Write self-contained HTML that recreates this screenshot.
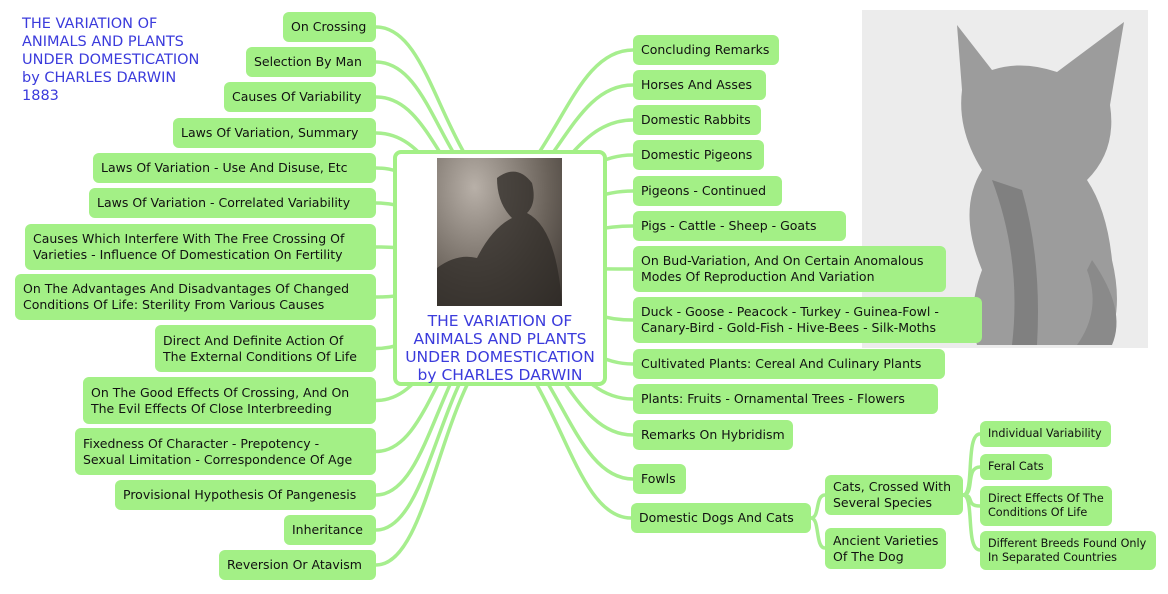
<!DOCTYPE html>
<html><head><meta charset="utf-8">
<style>
body{margin:0;width:1168px;height:594px;background:#fff;position:relative;overflow:hidden;font-family:"DejaVu Sans","Liberation Sans",sans-serif;}
.n{position:absolute;background:#a3f086;border-radius:6px;font-size:12.5px;color:#111;box-sizing:border-box;padding:0 8px;display:flex;align-items:center;line-height:16px;white-space:nowrap}
.s{font-size:11.2px;line-height:14px}
#title{position:absolute;left:22px;top:15px;color:#3b3bdc;font-size:14.5px;line-height:18px;font-family:"DejaVu Sans",sans-serif}
#center{position:absolute;left:393px;top:150px;width:214px;height:236px;box-sizing:border-box;border:4px solid #a3f086;border-radius:8px;background:#fff}
#photo{position:absolute;left:40px;top:4px;width:125px;height:148px;background:radial-gradient(ellipse at 30% 20%,#b8b0a8,#6a625a 60%,#3a3430);overflow:hidden}
#ct{position:absolute;left:0;right:0;top:158px;text-align:center;color:#3b3bdc;font-size:15.5px;line-height:18px}
#cat{position:absolute;left:862px;top:10px;width:286px;height:338px;background:#ececec}
svg{position:absolute;left:0;top:0}
</style></head><body>
<svg id="lines" width="1168" height="594"></svg>
<div id="title">THE VARIATION OF<br>ANIMALS AND PLANTS<br>UNDER DOMESTICATION<br>by CHARLES DARWIN<br>1883</div>
<div id="cat"><svg width="286" height="338" viewBox="0 0 286 338">
<path d="M95 15 L130 60 Q160 50 195 62 L262 12 L248 95 Q255 140 225 170 Q245 200 250 250 Q262 300 245 335 L115 335 Q105 300 120 260 Q95 200 120 160 Q95 120 100 80 Z" fill="#9c9c9c"/>
<path d="M130 170 Q160 250 150 335 L175 335 Q180 250 160 180Z" fill="#808080"/>
<path d="M230 250 Q265 300 250 335 L215 335 Q240 300 225 260Z" fill="#8a8a8a"/>
</svg></div>
<div id="center"><div id="photo"><svg width="125" height="148"><path d="M60 20 Q80 5 95 25 Q100 45 90 55 Q120 70 125 148 L0 148 L0 110 Q20 95 40 100 Q55 70 75 60 Q60 45 60 20Z" fill="#2e2a26" opacity="0.75"/></svg></div><div id="ct">THE VARIATION OF<br>ANIMALS AND PLANTS<br>UNDER DOMESTICATION<br>by CHARLES DARWIN</div></div>
<div id="nodes"></div>
<script>
var L=[["On Crossing",283,12,376,42],["Selection By Man",246,47,376,77],["Causes Of Variability",224,82,376,112],["Laws Of Variation, Summary",173,118,376,148],["Laws Of Variation - Use And Disuse, Etc",93,153,376,183],["Laws Of Variation - Correlated Variability",89,188,376,218],["Causes Which Interfere With The Free Crossing Of<br>Varieties - Influence Of Domestication On Fertility",25,224,376,270],["On The Advantages And Disadvantages Of Changed<br>Conditions Of Life: Sterility From Various Causes",15,274,376,320],["Direct And Definite Action Of<br>The External Conditions Of Life",155,325,376,372],["On The Good Effects Of Crossing, And On<br>The Evil Effects Of Close Interbreeding",83,377,376,424],["Fixedness Of Character - Prepotency -<br>Sexual Limitation - Correspondence Of Age",75,428,376,475],["Provisional Hypothesis Of Pangenesis",115,480,376,510],["Inheritance",284,515,376,545],["Reversion Or Atavism",219,550,376,580]];
var R=[["Concluding Remarks",633,35,779,65],["Horses And Asses",633,70,766,100],["Domestic Rabbits",633,105,761,135],["Domestic Pigeons",633,140,764,170],["Pigeons - Continued",633,176,782,206],["Pigs - Cattle - Sheep - Goats",633,211,846,241],["On Bud-Variation, And On Certain Anomalous<br>Modes Of Reproduction And Variation",633,246,946,292],["Duck - Goose - Peacock - Turkey - Guinea-Fowl -<br>Canary-Bird - Gold-Fish - Hive-Bees - Silk-Moths",633,297,982,343],["Cultivated Plants: Cereal And Culinary Plants",633,349,945,379],["Plants: Fruits - Ornamental Trees - Flowers",633,384,938,414],["Remarks On Hybridism",633,420,793,450],["Fowls",633,464,686,494],["Domestic Dogs And Cats",631,503,811,533]];
var S=[["Cats, Crossed With<br>Several Species",825,475,963,515,""],["Ancient Varieties<br>Of The Dog",825,528,946,569,""],["Individual Variability",980,421,1111,447,"s"],["Feral Cats",980,454,1052,480,"s"],["Direct Effects Of The<br>Conditions Of Life",980,486,1112,526,"s"],["Different Breeds Found Only<br>In Separated Countries",980,531,1156,570,"s"]];
var h="",p="";
function box(a,c){h+='<div class="n '+(c||"")+'" style="left:'+a[1]+'px;top:'+a[2]+'px;width:'+(a[3]-a[1])+'px;height:'+(a[4]-a[2])+'px">'+a[0]+'</div>';}
function path(d){p+='<path d="'+d+'" fill="none" stroke="#a6ee8e" stroke-width="3.5" stroke-linecap="round"/>';}
L.forEach(function(a,i){box(a);var y=(a[2]+a[4])/2;var sy=150+i*236/13;path("M"+a[3]+" "+y+" C430 "+y+" 440 "+sy+" 500 "+(268+(sy-268)*0.6));});
R.forEach(function(a,i){box(a);var y=(a[2]+a[4])/2;var sy=150+i*236/12;path("M"+a[1]+" "+y+" C575 "+y+" 560 "+sy+" 500 "+(268+(sy-268)*0.6));});
S.forEach(function(a){box(a,a[5]);});
path("M811 518 C820 518 815 495 825 495");path("M811 518 C820 518 815 548 825 548");
[434,467,506,550].forEach(function(y){path("M963 495 C975 495 965 "+y+" 980 "+y);});
document.getElementById("nodes").innerHTML=h;document.getElementById("lines").innerHTML=p;
</script>
</body></html>
